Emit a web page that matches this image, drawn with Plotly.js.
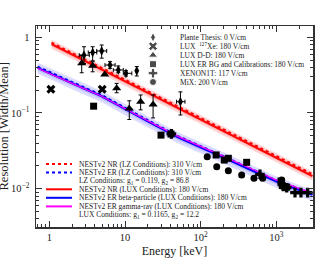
<!DOCTYPE html>
<html><head><meta charset="utf-8">
<script src="https://cdn.plot.ly/plotly-3.0.1.min.js"></script>
<style>html,body{margin:0;padding:0;background:#fff;overflow:hidden;width:334px;height:267px}#chart{position:fixed;left:0;top:0;width:334px;height:267px}</style>
</head><body><div id="chart"></div>
<script>
// ---------- data ----------
const nrEnergy   = [1.07, 3, 10, 30, 100, 300, 1000, 3000];
const nrLUX      = [0.81, 0.481, 0.262, 0.150, 0.0819, 0.0470, 0.0256, 0.0147];
const nrLZ       = [0.85, 0.505, 0.275, 0.158, 0.086, 0.0494, 0.0269, 0.0155];
const nrOuterHi  = [0.93, 0.553, 0.301, 0.173, 0.0942, 0.0541, 0.0294, 0.0169];
const nrOuterLo  = [0.704, 0.418, 0.228, 0.130, 0.0712, 0.0409, 0.0223, 0.0128];
const nrInnerHi  = [0.867, 0.515, 0.280, 0.161, 0.0876, 0.0503, 0.0274, 0.0157];
const nrInnerLo  = [0.757, 0.450, 0.245, 0.140, 0.0765, 0.0439, 0.0239, 0.0137];

const erEnergy   = [0.7, 1, 2, 5, 10, 20, 50, 100, 200, 500, 1000, 2000, 3000];
const erBeta     = [0.395, 0.339, 0.247, 0.165, 0.112, 0.0776, 0.0477, 0.0353, 0.0258, 0.0170, 0.0124, 0.0096, 0.0083];
const erGamma    = [0.39, 0.336, 0.246, 0.165, 0.113, 0.079, 0.049, 0.0364, 0.0268, 0.0178, 0.0130, 0.0101, 0.0087];
const erLZ       = [0.41, 0.352, 0.256, 0.171, 0.116, 0.0805, 0.0495, 0.0366, 0.0268, 0.0177, 0.0129, 0.0100, 0.0087];
const erOuterHi  = [0.462, 0.397, 0.289, 0.193, 0.131, 0.0908, 0.0558, 0.0413, 0.0302, 0.0199, 0.0145, 0.0112, 0.0097];
const erOuterLo  = [0.329, 0.283, 0.206, 0.1375, 0.0933, 0.0647, 0.0398, 0.0294, 0.0215, 0.0142, 0.0103, 0.0080, 0.0069];
const erInnerHi  = [0.427, 0.366, 0.267, 0.178, 0.121, 0.0838, 0.0515, 0.0381, 0.0279, 0.0184, 0.0134, 0.0104, 0.0090];
const erInnerLo  = [0.362, 0.311, 0.227, 0.151, 0.103, 0.0712, 0.0438, 0.0324, 0.0237, 0.0156, 0.0114, 0.0088, 0.0076];

const planteE     = [2.87, 3.74, 4.92, 6.34, 8.16, 10.3, 14.3, 54];
const planteR     = [0.58, 0.63, 0.66, 0.43, 0.37, 0.334, 0.36, 0.141];
const planteRUp   = [0.17, 0.12, 0.13, 0.046, 0.048, 0.028, 0.05, 0.049];
const planteRDn   = [0.13, 0.14, 0.13, 0.041, 0.03, 0.026, 0.052, 0.047];
const planteEUp   = [0.51, 0.49, 0.81, 1.06, 1.34, 2.0, 0, 8];
const planteEDn   = [0.38, 0.47, 0.69, 0.9, 1.16, 0.8, 0, 6];

const xeE = [1.05, 5.0];
const xeR = [0.206, 0.206];

const ddE   = [2.68, 3.74, 5.4, 7.76, 11.4, 16.1, 23.5];
const ddR   = [0.455, 0.42, 0.322, 0.212, 0.115, 0.141, 0.129];
const ddUp  = [0.125, 0.056, 0.0, 0.034, 0.030, 0.032, 0.044];
const ddDn  = [0.115, 0.07, 0.0, 0.027, 0.033, 0.031, 0.043];

const bgE = [3.85, 29.9, 40.5, 160, 205, 232, 405, 1150, 1197, 1300, 1368];
const bgR = [0.123, 0.051, 0.0528, 0.0279, 0.0239, 0.0252, 0.0223, 0.0126, 0.011, 0.0103, 0.0105];

const x1tE = [41, 607, 1200, 1368, 1762, 2113, 2590];
const x1tR = [0.053, 0.0155, 0.0113, 0.0103, 0.00886, 0.00886, 0.00886];

const mixE = [122, 163, 232, 348, 506, 659, 1175];
const mixR = [0.0265, 0.0195, 0.0173, 0.0152, 0.0137, 0.0137, 0.0130];

const dataLegend = [
  "Plante Thesis: 0 V/cm",
  "LUX  <sup>127</sup>Xe: 180 V/cm",
  "LUX D-D: 180 V/cm",
  "LUX ER BG and Calibrations: 180 V/cm",
  "XENON1T: 117 V/cm",
  "MiX: 200 V/cm"
];
const curveLegend = [
  "NESTv2 NR (LZ Conditions): 310 V/cm",
  "NESTv2 ER (LZ Conditions): 310 V/cm",
  "LZ Conditions: g<sub>1</sub> = 0.119, g<sub>2</sub> = 86.8",
  "NESTv2 NR (LUX Conditions): 180 V/cm",
  "NESTv2 ER beta-particle (LUX Conditions): 180 V/cm",
  "NESTv2 ER gamma-ray (LUX Conditions): 180 V/cm",
  "LUX Conditions: g<sub>1</sub> = 0.1165, g<sub>2</sub> = 12.2"
];

// ---------- styles ----------
const FONT = "Liberation Serif, Times New Roman, serif";
const redBand = "rgba(255,0,0,0.17)";
const blueBand = "rgba(40,40,255,0.17)";
const none = {width: 0};

function band(x, lo, hi, color) {
  return [
    {x: x, y: lo, mode: "lines", line: none, hoverinfo: "skip", showlegend: false},
    {x: x, y: hi, mode: "lines", line: none, fill: "tonexty", fillcolor: color, hoverinfo: "skip", showlegend: false}
  ];
}
const eb = (up, dn) => ({type: "data", symmetric: false, array: up, arrayminus: dn, color: "#000", thickness: 1, width: 2});

const traces = [
  ...band(nrEnergy, nrOuterLo, nrOuterHi, redBand),
  ...band(nrEnergy, nrInnerLo, nrInnerHi, redBand),
  ...band(erEnergy, erOuterLo, erOuterHi, blueBand),
  ...band(erEnergy, erInnerLo, erInnerHi, blueBand),
  {x: nrEnergy, y: nrLZ, mode: "lines", line: {color: "#ff0000", width: 2, dash: "dot"}},
  {x: erEnergy, y: erLZ, mode: "lines", line: {color: "#0000ff", width: 2, dash: "dot"}},
  {x: nrEnergy, y: nrLUX, mode: "lines", line: {color: "#ff0000", width: 2}},
  {x: erEnergy, y: erBeta, mode: "lines", line: {color: "#0000ff", width: 2}},
  {x: erEnergy, y: erGamma, mode: "lines", line: {color: "#ff00ff", width: 1.3}},
  {x: planteE, y: planteR, mode: "markers", marker: {symbol: "diamond-tall", size: 7, color: "#000"},
   error_y: eb(planteRUp, planteRDn), error_x: eb(planteEUp, planteEDn)},
  {x: xeE, y: xeR, mode: "markers", marker: {symbol: "x", size: 8, color: "#000"}},
  {x: ddE, y: ddR, mode: "markers", marker: {symbol: "triangle-up", size: 8, color: "#000"}, error_y: eb(ddUp, ddDn)},
  {x: bgE, y: bgR, mode: "markers", marker: {symbol: "square", size: 7, color: "#000"}},
  {x: x1tE, y: x1tR, mode: "markers", marker: {symbol: "cross", size: 8, color: "#000"}},
  {x: mixE, y: mixR, mode: "markers", marker: {symbol: "circle", size: 7, color: "#000"}}
];

// ---------- legend drawn in pixel space (overlay axes) ----------
const PX = {l: 36, r: 313, t: 26, b: 227};
const legSymbols = ["diamond-tall", "x", "triangle-up", "square", "cross", "circle"];
const legRows = [37.3, 46.2, 55.2, 64.2, 73.2, 82];
traces.push({
  x: legRows.map(() => 153), y: legRows, xaxis: "x2", yaxis: "y2", mode: "markers",
  marker: {symbol: legSymbols, size: [7, 8, 8, 7, 8, 7], color: "#000"}, hoverinfo: "skip"
});
const annotations = [];
const shapes = [];
dataLegend.forEach((t, i) => annotations.push({
  x: 178, y: legRows[i], xref: "x2", yref: "y2", text: t, showarrow: false,
  xanchor: "left", yanchor: "middle", font: {family: FONT, size: 7.5, color: "#222"}
}));
const cRows = [164, 172.4, 180.8, 189.3, 197.8, 206.4, 214.8];
const cStyles = [
  {color: "#ff0000", dash: "dot"}, {color: "#0000ff", dash: "dot"}, null,
  {color: "#ff0000", dash: "solid"}, {color: "#0000ff", dash: "solid"}, {color: "#ff00ff", dash: "solid"}, null
];
curveLegend.forEach((t, i) => {
  annotations.push({
    x: 77, y: cRows[i], xref: "x2", yref: "y2", text: t, showarrow: false,
    xanchor: "left", yanchor: "middle", font: {family: FONT, size: 7.5, color: "#222"}
  });
  if (cStyles[i]) shapes.push({
    type: "line", xref: "x2", yref: "y2", x0: 46, x1: 72, y0: cRows[i], y1: cRows[i],
    line: {color: cStyles[i].color, width: 2, dash: cStyles[i].dash}
  });
});
annotations.push({
  xref: "paper", yref: "paper", x: (3 - PX.l) / (PX.r - PX.l), y: 0.5, text: "Resolution [Width/Mean]",
  textangle: -90, showarrow: false, xanchor: "center", yanchor: "middle",
  font: {family: FONT, size: 12.5, color: "#222"}
});

// minor ticks
const minorVals = [];
for (let d = -3; d <= 3; d++) for (let m = 2; m <= 9; m++) minorVals.push(m * Math.pow(10, d));

const axisCommon = {
  type: "log", showgrid: false, zeroline: false, showline: true, linecolor: "#333", linewidth: 1.5,
  mirror: "ticks", ticks: "inside", ticklen: 6, tickwidth: 1, tickcolor: "#333",
  tickfont: {family: FONT, size: 10.5, color: "#222"},
  minor: {tickmode: "array", tickvals: minorVals, ticks: "inside", ticklen: 3, tickwidth: 1, tickcolor: "#333", showgrid: false}
};

const layout = {
  width: 334, height: 267, showlegend: false,
  margin: {l: PX.l, r: 334 - PX.r, t: PX.t, b: 267 - PX.b, pad: 0},
  paper_bgcolor: "#fff", plot_bgcolor: "#fff",
  xaxis: Object.assign({}, axisCommon, {
    range: [Math.log10(0.667), Math.log10(3048)],
    tickmode: "array", tickvals: [1, 10, 100, 1000], ticktext: ["1", "10", "10<sup>2</sup>", "10<sup>3</sup>"],
    title: {text: "Energy [keV]", font: {family: FONT, size: 12, color: "#222"}, standoff: 4}
  }),
  yaxis: Object.assign({}, axisCommon, {
    range: [-2.506, 0.149],
    tickmode: "array", tickvals: [0.01, 0.1, 1], ticktext: ["10<sup>\u22122</sup>", "10<sup>\u22121</sup>", "1"],
    ticklabelstandoff: 3
  }),
  xaxis2: {overlaying: "x", range: [PX.l, PX.r], visible: false, fixedrange: true},
  yaxis2: {overlaying: "y", range: [PX.b, PX.t], visible: false, fixedrange: true},
  annotations: annotations,
  shapes: shapes
};

Plotly.newPlot("chart", traces, layout, {staticPlot: true, displayModeBar: false});
</script>
</body></html>
